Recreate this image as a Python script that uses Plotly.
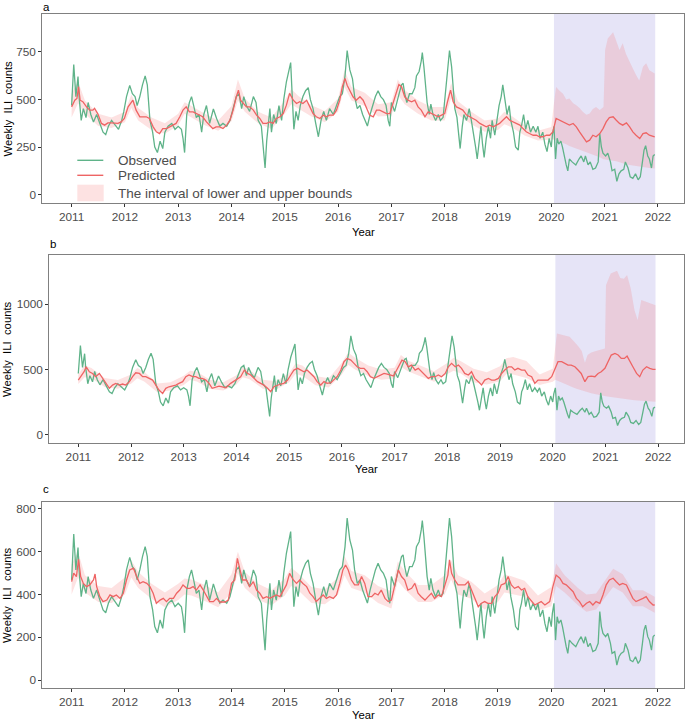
import plotly.graph_objects as go

# ---------------- data ----------------
years_ticks = [2011, 2012, 2013, 2014, 2015, 2016, 2017, 2018, 2019, 2020, 2021, 2022]
shade_start, shade_end = 2020.05, 2021.95

obs_year = [
    2011.00, 2011.04, 2011.08, 2011.12, 2011.14, 2011.18, 2011.22, 2011.27, 2011.31, 2011.36,
    2011.41, 2011.47, 2011.53, 2011.59, 2011.64, 2011.69, 2011.75, 2011.81, 2011.88, 2011.94,
    2011.98, 2012.03, 2012.09, 2012.14, 2012.19, 2012.23, 2012.28, 2012.33, 2012.38, 2012.42,
    2012.47, 2012.52, 2012.56, 2012.61, 2012.66, 2012.71, 2012.75, 2012.81, 2012.88, 2012.94,
    2013.00, 2013.06, 2013.09, 2013.12, 2013.16, 2013.21, 2013.25, 2013.29, 2013.34, 2013.39,
    2013.44, 2013.48, 2013.53, 2013.59, 2013.66, 2013.72, 2013.78, 2013.84, 2013.91, 2013.97,
    2014.03, 2014.09, 2014.14, 2014.19, 2014.23, 2014.28, 2014.34, 2014.41, 2014.46, 2014.50,
    2014.56, 2014.59, 2014.63, 2014.66, 2014.69, 2014.72, 2014.75, 2014.79, 2014.84, 2014.89,
    2014.94, 2014.98, 2015.03, 2015.08, 2015.11, 2015.14, 2015.17, 2015.21, 2015.25, 2015.29,
    2015.34, 2015.39, 2015.44, 2015.48, 2015.53, 2015.58, 2015.63, 2015.68, 2015.73, 2015.78,
    2015.84, 2015.91, 2015.97, 2016.03, 2016.08, 2016.13, 2016.17, 2016.22, 2016.27, 2016.31,
    2016.36, 2016.41, 2016.46, 2016.50, 2016.55, 2016.60, 2016.65, 2016.70, 2016.75, 2016.80,
    2016.85, 2016.90, 2016.94, 2016.97, 2017.00, 2017.06, 2017.13, 2017.19, 2017.22, 2017.25,
    2017.29, 2017.34, 2017.39, 2017.44, 2017.47, 2017.52, 2017.56, 2017.58, 2017.61, 2017.64,
    2017.67, 2017.71, 2017.74, 2017.78, 2017.83, 2017.88, 2017.92, 2017.97, 2018.03, 2018.07,
    2018.09, 2018.13, 2018.16, 2018.19, 2018.23, 2018.26, 2018.29, 2018.33, 2018.36, 2018.41,
    2018.46, 2018.50, 2018.54, 2018.58, 2018.61, 2018.64, 2018.68, 2018.71, 2018.74, 2018.78,
    2018.82, 2018.86, 2018.89, 2018.94, 2018.98, 2019.02, 2019.06, 2019.09, 2019.13, 2019.17,
    2019.21, 2019.24, 2019.29, 2019.33, 2019.38, 2019.41, 2019.44, 2019.48, 2019.52, 2019.56,
    2019.61, 2019.66, 2019.71, 2019.75, 2019.79, 2019.84, 2019.88, 2019.92, 2019.96, 2020.00,
    2020.02, 2020.05, 2020.08, 2020.11, 2020.14, 2020.18, 2020.21, 2020.24, 2020.28, 2020.31,
    2020.34, 2020.39, 2020.46, 2020.52, 2020.56, 2020.61, 2020.64, 2020.69, 2020.73, 2020.78,
    2020.83, 2020.88, 2020.91, 2020.94, 2020.97, 2021.02, 2021.06, 2021.11, 2021.14, 2021.19,
    2021.23, 2021.27, 2021.31, 2021.36, 2021.39, 2021.44, 2021.48, 2021.53, 2021.58, 2021.63,
    2021.67, 2021.71, 2021.74, 2021.77, 2021.81, 2021.84, 2021.88, 2021.91, 2021.94,
]
obs_value = [
    468, 683, 515, 620, 515, 390, 452, 405, 484, 421,
    382, 421, 374, 328, 315, 359, 390, 367, 343, 390,
    437, 515, 574, 530, 515, 468, 515, 577, 624, 577,
    390, 328, 250, 221, 281, 242, 328, 359, 374, 343,
    359, 343, 296, 221, 421, 484, 515, 468, 405, 421,
    328, 421, 468, 374, 450, 400, 360, 374, 359, 390,
    452, 515, 530, 452, 515, 468, 437, 515, 484, 390,
    359, 250, 140, 281, 359, 452, 328, 421, 374, 468,
    390, 499, 593, 655, 694, 515, 343, 437, 390, 468,
    515, 546, 562, 499, 452, 374, 304, 390, 437, 390,
    452, 421, 468, 515, 530, 624, 757, 655, 608, 515,
    452, 468, 421, 390, 360, 421, 468, 515, 546, 515,
    499, 468, 390, 359, 484, 437, 515, 577, 585, 530,
    484, 530, 530, 562, 624, 647, 702, 746, 671, 562,
    484, 421, 476, 421, 390, 421, 390, 406, 593, 733,
    757, 671, 546, 452, 406, 328, 242, 359, 421, 390,
    452, 390, 328, 250, 187, 265, 359, 265, 195, 296,
    359, 296, 390, 312, 406, 468, 515, 577, 499, 421,
    468, 390, 328, 250, 234, 328, 359, 421, 343, 390,
    328, 359, 328, 359, 296, 328, 265, 226, 296, 250,
    312, 359, 187, 296, 265, 281, 250, 203, 156, 125,
    187, 172, 156, 187, 203, 172, 203, 156, 172, 133,
    140, 172, 320, 250, 218, 203, 218, 172, 125, 133,
    70, 109, 125, 133, 172, 140, 94, 86, 109, 78,
    94, 172, 234, 257, 203, 187, 140, 203, 211,
]

# ---- panel a: predicted + bounds
pred_a_year = [
    2011.00, 2011.06, 2011.10, 2011.13, 2011.16, 2011.21, 2011.28, 2011.34, 2011.40, 2011.43,
    2011.49, 2011.56, 2011.62, 2011.68, 2011.74, 2011.81, 2011.87, 2011.93, 2011.99, 2012.06,
    2012.12, 2012.15, 2012.21, 2012.28, 2012.34, 2012.40, 2012.46, 2012.53, 2012.59, 2012.65,
    2012.71, 2012.78, 2012.84, 2012.90, 2012.96, 2013.03, 2013.09, 2013.15, 2013.21, 2013.28,
    2013.34, 2013.40, 2013.46, 2013.53, 2013.59, 2013.65, 2013.71, 2013.78, 2013.84, 2013.91,
    2013.97, 2014.03, 2014.09, 2014.13, 2014.17, 2014.22, 2014.28, 2014.34, 2014.41, 2014.47,
    2014.53, 2014.59, 2014.66, 2014.72, 2014.78, 2014.84, 2014.91, 2014.97, 2015.03, 2015.09,
    2015.16, 2015.22, 2015.28, 2015.34, 2015.41, 2015.47, 2015.53, 2015.59, 2015.66, 2015.72,
    2015.78, 2015.84, 2015.91, 2015.97, 2016.03, 2016.08, 2016.13, 2016.17, 2016.22, 2016.28,
    2016.34, 2016.41, 2016.47, 2016.53, 2016.59, 2016.66, 2016.72, 2016.78, 2016.84, 2016.91,
    2016.97, 2017.03, 2017.09, 2017.14, 2017.19, 2017.25, 2017.31, 2017.38, 2017.44, 2017.50,
    2017.56, 2017.63, 2017.69, 2017.75, 2017.81, 2017.88, 2017.94, 2018.00, 2018.06, 2018.11,
    2018.16, 2018.22, 2018.28, 2018.34, 2018.41, 2018.47, 2018.53, 2018.59, 2018.66, 2018.72,
    2018.78, 2018.84, 2018.91, 2018.97, 2019.03, 2019.09, 2019.16, 2019.22, 2019.28, 2019.34,
    2019.41, 2019.47, 2019.53, 2019.59, 2019.66, 2019.72, 2019.78, 2019.84, 2019.91, 2019.97,
    2020.03, 2020.09, 2020.16, 2020.22, 2020.28, 2020.34, 2020.41, 2020.47, 2020.53, 2020.59,
    2020.66, 2020.72, 2020.78, 2020.84, 2020.91, 2020.97, 2021.03, 2021.09, 2021.16, 2021.22,
    2021.28, 2021.34, 2021.41, 2021.47, 2021.53, 2021.59, 2021.66, 2021.72, 2021.78, 2021.84,
    2021.91, 2021.94,
]
pred_a_value = [
    461, 496, 505, 567, 496, 488, 461, 444, 444, 453,
    426, 374, 365, 377, 377, 374, 374, 382, 400, 461,
    488, 496, 444, 409, 409, 409, 400, 356, 330, 321,
    347, 347, 356, 365, 374, 409, 444, 461, 435, 435,
    426, 418, 409, 382, 365, 347, 356, 356, 347, 365,
    391, 444, 514, 549, 496, 479, 461, 461, 444, 418,
    400, 374, 374, 382, 374, 400, 409, 426, 470, 532,
    496, 479, 488, 479, 496, 461, 426, 409, 400, 418,
    409, 418, 418, 444, 496, 567, 611, 575, 549, 514,
    496, 514, 496, 461, 418, 409, 444, 444, 435, 426,
    426, 479, 532, 578, 567, 514, 496, 488, 496, 461,
    444, 409, 435, 426, 418, 409, 418, 426, 496, 549,
    488, 461, 453, 444, 418, 409, 400, 391, 374, 365,
    356, 365, 356, 365, 374, 391, 409, 391, 382, 374,
    365, 347, 330, 321, 312, 312, 304, 304, 312, 312,
    330, 400, 391, 382, 374, 365, 374, 356, 330, 304,
    277, 286, 312, 304, 321, 347, 382, 405, 409, 391,
    374, 365, 377, 356, 330, 312, 295, 321, 325, 312,
    307, 304,
]
band_a_year = [
    2011.00, 2011.12, 2011.25, 2011.50, 2011.75, 2012.00, 2012.12, 2012.25, 2012.50, 2012.75,
    2013.00, 2013.12, 2013.25, 2013.50, 2013.75, 2014.00, 2014.12, 2014.25, 2014.50, 2014.75,
    2015.00, 2015.12, 2015.25, 2015.50, 2015.75, 2016.00, 2016.12, 2016.25, 2016.50, 2016.75,
    2017.00, 2017.12, 2017.25, 2017.50, 2017.75, 2018.00, 2018.12, 2018.25, 2018.50, 2018.75,
    2019.00, 2019.12, 2019.25, 2019.50, 2019.75, 2020.00, 2020.05, 2020.09, 2020.16, 2020.22,
    2020.28, 2020.34, 2020.41, 2020.47, 2020.53, 2020.59, 2020.66, 2020.72, 2020.78, 2020.84,
    2020.91, 2020.98, 2021.01, 2021.06, 2021.16, 2021.22, 2021.28, 2021.34, 2021.40, 2021.47,
    2021.53, 2021.59, 2021.65, 2021.72, 2021.78, 2021.84, 2021.94,
]
band_a_lower = [
    405, 480, 425, 360, 350, 380, 455, 390, 340, 320,
    365, 425, 405, 365, 335, 385, 495, 435, 375, 345,
    425, 475, 450, 410, 380, 435, 565, 495, 465, 410,
    415, 525, 475, 425, 390, 390, 505, 420, 370, 330,
    340, 370, 355, 310, 285, 290, 290, 288, 280, 272,
    265, 255, 248, 242, 235, 228, 222, 216, 210, 203,
    196, 186, 184, 182, 178, 175, 170, 163, 160, 156,
    152, 150, 148, 146, 142, 140, 137,
]
band_a_upper = [
    530, 595, 495, 425, 405, 435, 525, 455, 405, 375,
    425, 485, 465, 425, 390, 465, 605, 505, 435, 405,
    495, 555, 520, 470, 440, 505, 655, 565, 535, 475,
    485, 605, 550, 495, 460, 460, 585, 490, 435, 390,
    400, 435, 415, 365, 335, 355, 480, 565, 545, 530,
    500, 505, 480, 470, 455, 435, 420, 426, 450, 460,
    445, 460, 760, 820, 853, 800, 760, 795, 740, 698,
    660, 628, 600, 672, 690, 654, 637,
]

# ---- panel b: predicted + bounds
pred_b_year = [
    2011.00, 2011.05, 2011.11, 2011.15, 2011.21, 2011.27, 2011.33, 2011.40, 2011.46, 2011.52,
    2011.59, 2011.65, 2011.71, 2011.78, 2011.84, 2011.90, 2011.97, 2012.03, 2012.09, 2012.16,
    2012.22, 2012.28, 2012.34, 2012.41, 2012.47, 2012.53, 2012.60, 2012.66, 2012.72, 2012.79,
    2012.85, 2012.91, 2012.98, 2013.04, 2013.10, 2013.17, 2013.23, 2013.29, 2013.35, 2013.42,
    2013.48, 2013.54, 2013.61, 2013.67, 2013.73, 2013.80, 2013.89, 2013.99, 2014.08, 2014.15,
    2014.21, 2014.27, 2014.33, 2014.40, 2014.46, 2014.52, 2014.59, 2014.65, 2014.71, 2014.78,
    2014.84, 2014.90, 2014.97, 2015.03, 2015.09, 2015.16, 2015.22, 2015.28, 2015.34, 2015.41,
    2015.47, 2015.53, 2015.60, 2015.66, 2015.72, 2015.79, 2015.85, 2015.91, 2015.98, 2016.04,
    2016.10, 2016.17, 2016.23, 2016.29, 2016.35, 2016.42, 2016.48, 2016.54, 2016.61, 2016.67,
    2016.73, 2016.80, 2016.86, 2016.92, 2016.98, 2017.04, 2017.14, 2017.20, 2017.26, 2017.32,
    2017.39, 2017.45, 2017.51, 2017.58, 2017.64, 2017.70, 2017.77, 2017.83, 2017.89, 2017.96,
    2018.02, 2018.08, 2018.15, 2018.21, 2018.27, 2018.33, 2018.40, 2018.46, 2018.52, 2018.59,
    2018.65, 2018.71, 2018.78, 2018.84, 2018.90, 2018.97, 2019.03, 2019.09, 2019.16, 2019.22,
    2019.28, 2019.34, 2019.41, 2019.47, 2019.53, 2019.60, 2019.66, 2019.72, 2019.79, 2019.85,
    2019.91, 2019.98, 2020.04, 2020.10, 2020.17, 2020.23, 2020.29, 2020.35, 2020.42, 2020.48,
    2020.54, 2020.61, 2020.67, 2020.73, 2020.80, 2020.86, 2020.92, 2020.99, 2021.05, 2021.11,
    2021.18, 2021.24, 2021.30, 2021.36, 2021.41, 2021.46, 2021.52, 2021.59, 2021.65, 2021.71,
    2021.78, 2021.84, 2021.90, 2021.95,
]
pred_b_value = [
    418, 444, 482, 520, 482, 469, 444, 469, 431, 393,
    355, 380, 393, 380, 388, 380, 406, 444, 474, 469,
    444, 444, 431, 418, 380, 342, 316, 355, 367, 372,
    380, 393, 406, 444, 457, 444, 444, 431, 431, 418,
    393, 355, 367, 372, 367, 360, 393, 418, 444, 495,
    469, 457, 431, 406, 393, 380, 355, 329, 367, 380,
    388, 393, 418, 457, 495, 508, 495, 482, 495, 469,
    444, 406, 380, 406, 393, 398, 418, 444, 495, 559,
    584, 571, 546, 520, 508, 508, 482, 444, 431, 444,
    457, 469, 464, 457, 450, 495, 571, 559, 520, 533,
    495, 508, 482, 457, 431, 444, 444, 457, 444, 469,
    520, 546, 520, 533, 508, 469, 457, 482, 431, 406,
    380, 418, 431, 418, 418, 431, 469, 495, 520, 520,
    495, 508, 495, 495, 457, 444, 393, 418, 418, 418,
    418, 444, 495, 559, 559, 546, 533, 533, 520, 495,
    469, 406, 444, 449, 444, 469, 482, 508, 559, 610,
    622, 610, 584, 584, 602, 559, 520, 469, 444, 495,
    520, 508, 500, 500,
]
band_b_year = [
    2011.00, 2011.12, 2011.25, 2011.50, 2011.75, 2012.00, 2012.12, 2012.25, 2012.50, 2012.75,
    2013.00, 2013.12, 2013.25, 2013.50, 2013.75, 2014.00, 2014.12, 2014.25, 2014.50, 2014.75,
    2015.00, 2015.12, 2015.25, 2015.50, 2015.75, 2016.00, 2016.12, 2016.25, 2016.50, 2016.75,
    2017.00, 2017.12, 2017.25, 2017.50, 2017.75, 2018.00, 2018.12, 2018.25, 2018.50, 2018.75,
    2019.00, 2019.12, 2019.25, 2019.50, 2019.75, 2020.00, 2020.05, 2020.08, 2020.17, 2020.25,
    2020.32, 2020.40, 2020.48, 2020.55, 2020.61, 2020.66, 2020.73, 2020.82, 2020.92, 2020.99,
    2021.01, 2021.10, 2021.22, 2021.28, 2021.35, 2021.41, 2021.48, 2021.55, 2021.61, 2021.68,
    2021.77, 2021.87, 2021.95,
]
band_b_lower = [
    388, 440, 432, 365, 352, 390, 432, 408, 325, 338,
    380, 418, 408, 350, 338, 385, 440, 425, 352, 345,
    402, 465, 452, 378, 362, 460, 535, 500, 450, 420,
    430, 520, 485, 445, 405, 465, 490, 470, 400, 385,
    410, 465, 460, 435, 380, 405, 420, 415, 400, 385,
    372, 360, 348, 338, 330, 325, 318, 310, 302, 296,
    295, 288, 282, 278, 274, 270, 267, 263, 260, 258,
    256, 254, 253,
]
band_b_upper = [
    462, 530, 510, 435, 418, 460, 510, 482, 392, 402,
    452, 490, 482, 420, 402, 455, 520, 495, 420, 410,
    470, 545, 530, 450, 432, 550, 630, 590, 530, 500,
    512, 610, 568, 528, 485, 548, 590, 565, 505, 478,
    525, 585, 595, 565, 460, 505, 690, 775, 765, 755,
    750, 715, 680, 640, 550, 610, 630, 640, 650, 660,
    1145, 1235, 1255, 1200, 1195, 1222, 1120, 954, 878, 1031,
    1018, 1005, 992,
]

# ---- panel c: predicted + bounds
pred_c_year = [
    2011.00, 2011.04, 2011.09, 2011.13, 2011.17, 2011.22, 2011.28, 2011.34, 2011.41, 2011.44,
    2011.47, 2011.53, 2011.59, 2011.66, 2011.72, 2011.78, 2011.84, 2011.91, 2011.97, 2012.03,
    2012.09, 2012.16, 2012.22, 2012.28, 2012.34, 2012.41, 2012.47, 2012.53, 2012.59, 2012.66,
    2012.72, 2012.78, 2012.84, 2012.91, 2012.97, 2013.03, 2013.09, 2013.16, 2013.22, 2013.28,
    2013.34, 2013.41, 2013.47, 2013.53, 2013.59, 2013.66, 2013.72, 2013.78, 2013.88, 2013.94,
    2014.00, 2014.06, 2014.11, 2014.16, 2014.21, 2014.28, 2014.34, 2014.41, 2014.47, 2014.53,
    2014.59, 2014.66, 2014.72, 2014.78, 2014.84, 2014.91, 2014.97, 2015.03, 2015.09, 2015.16,
    2015.22, 2015.28, 2015.34, 2015.41, 2015.47, 2015.53, 2015.59, 2015.66, 2015.72, 2015.78,
    2015.84, 2015.91, 2015.97, 2016.03, 2016.09, 2016.14, 2016.19, 2016.25, 2016.31, 2016.38,
    2016.44, 2016.50, 2016.56, 2016.63, 2016.69, 2016.75, 2016.81, 2016.88, 2016.94, 2017.00,
    2017.06, 2017.13, 2017.19, 2017.25, 2017.31, 2017.38, 2017.44, 2017.50, 2017.56, 2017.63,
    2017.69, 2017.75, 2017.81, 2017.88, 2017.94, 2018.00, 2018.06, 2018.09, 2018.13, 2018.19,
    2018.25, 2018.31, 2018.38, 2018.44, 2018.50, 2018.56, 2018.63, 2018.69, 2018.75, 2018.81,
    2018.88, 2018.94, 2019.00, 2019.06, 2019.13, 2019.19, 2019.25, 2019.31, 2019.38, 2019.44,
    2019.50, 2019.56, 2019.63, 2019.69, 2019.75, 2019.81, 2019.88, 2019.97, 2020.03, 2020.09,
    2020.16, 2020.22, 2020.28, 2020.34, 2020.41, 2020.47, 2020.53, 2020.59, 2020.66, 2020.72,
    2020.78, 2020.84, 2020.91, 2020.97, 2021.03, 2021.09, 2021.16, 2021.22, 2021.28, 2021.34,
    2021.41, 2021.47, 2021.53, 2021.59, 2021.66, 2021.72, 2021.78, 2021.84, 2021.91, 2021.94,
]
pred_c_value = [
    460, 500, 484, 565, 484, 452, 437, 445, 468, 496,
    437, 390, 367, 374, 398, 390, 398, 382, 406, 468,
    515, 523, 484, 452, 460, 452, 437, 406, 359, 374,
    382, 367, 382, 382, 406, 421, 445, 429, 429, 437,
    421, 445, 421, 390, 367, 367, 382, 365, 365, 374,
    452, 468, 569, 515, 468, 468, 437, 460, 421, 406,
    382, 390, 382, 390, 398, 390, 421, 445, 499, 468,
    452, 468, 452, 437, 406, 390, 367, 382, 398, 382,
    390, 382, 398, 452, 515, 538, 515, 468, 445, 445,
    484, 452, 390, 390, 406, 398, 421, 382, 367, 374,
    437, 515, 484, 468, 421, 429, 452, 406, 390, 374,
    390, 406, 382, 398, 390, 445, 491, 562, 499, 468,
    445, 445, 445, 460, 421, 382, 343, 359, 367, 359,
    359, 390, 406, 445, 452, 484, 445, 429, 437, 421,
    429, 390, 367, 351, 359, 367, 351, 367, 437, 491,
    476, 452, 445, 429, 413, 382, 367, 343, 359, 367,
    351, 367, 359, 398, 445, 468, 476, 460, 445, 452,
    445, 413, 382, 367, 374, 382, 390, 367, 351, 351,
]
band_c_year = [
    2011.00, 2011.12, 2011.25, 2011.50, 2011.75, 2012.00, 2012.12, 2012.25, 2012.50, 2012.75,
    2013.00, 2013.12, 2013.25, 2013.50, 2013.75, 2014.00, 2014.12, 2014.25, 2014.50, 2014.75,
    2015.00, 2015.12, 2015.25, 2015.50, 2015.75, 2016.00, 2016.12, 2016.25, 2016.50, 2016.75,
    2017.00, 2017.12, 2017.25, 2017.50, 2017.75, 2018.00, 2018.12, 2018.25, 2018.50, 2018.75,
    2019.00, 2019.12, 2019.25, 2019.50, 2019.75, 2020.00, 2020.09, 2020.25, 2020.50, 2020.66,
    2020.84, 2021.00, 2021.16, 2021.34, 2021.53, 2021.72, 2021.94,
]
band_c_lower = [
    400, 480, 410, 365, 360, 400, 480, 430, 380, 340,
    375, 400, 395, 370, 340, 410, 500, 430, 375, 350,
    395, 440, 420, 360, 355, 400, 490, 430, 410, 360,
    335, 465, 425, 365, 365, 400, 470, 400, 380, 330,
    365, 410, 405, 390, 325, 345, 440, 410, 350, 320,
    330, 380, 435, 410, 345, 345, 315,
]
band_c_upper = [
    540, 600, 490, 440, 430, 480, 560, 505, 450, 410,
    450, 475, 470, 445, 410, 495, 600, 505, 450, 420,
    475, 525, 500, 435, 425, 480, 580, 510, 490, 440,
    415, 555, 510, 445, 445, 490, 560, 490, 460, 405,
    445, 495, 485, 465, 395, 435, 545, 490, 430, 400,
    405, 465, 520, 495, 420, 420, 390,
]

# ---------------- styling ----------------
W, H = 685, 722
FONT = "Liberation Sans, Arial, sans-serif"
GREEN = "#5FB389"
RED = "#EE6464"
BAND = "rgba(245,110,110,0.20)"
SHADE = "#E6E4F7"
BORDER = "#808080"
TICKC = "#333333"
TICKTXT = "#4D4D4D"


def px(x):
    return x / W


def py(y):
    return 1 - y / H


panels = [
    dict(tag="a", pred_t=pred_a_year, pred_v=pred_a_value, band_t=band_a_year,
         lo=band_a_lower, up=band_a_upper,
         xdom=[px(42.3), px(684)], ydom=[py(203), py(14)], yrange=[-44, 949],
         ytick=[0, 250, 500, 750], tag_x=42.3, tag_y=0.0, tag_anchor="top",
         ttl_y=108.5, year_x=363.2, year_y=231.5),
    dict(tag="b", pred_t=pred_b_year, pred_v=pred_b_value, band_t=band_b_year,
         lo=band_b_lower, up=band_b_upper,
         xdom=[px(49.3), px(684)], ydom=[py(443.3), py(255)], yrange=[-66, 1376],
         ytick=[0, 500, 1000], tag_x=49.3, tag_y=244.2, tag_anchor="middle",
         ttl_y=349.0, year_x=366.7, year_y=469.5),
    dict(tag="c", pred_t=pred_c_year, pred_v=pred_c_value, band_t=band_c_year,
         lo=band_c_lower, up=band_c_upper,
         xdom=[px(42.3), px(684)], ydom=[py(688), py(501.7)], yrange=[-37, 834],
         ytick=[0, 200, 400, 600, 800], tag_x=42.3, tag_y=489.2, tag_anchor="middle",
         ttl_y=595.0, year_x=363.2, year_y=715.0),
]

fig = go.Figure()
layout = dict(
    width=W, height=H, autosize=False,
    margin=dict(l=0, r=0, t=0, b=0, pad=0),
    paper_bgcolor="white", plot_bgcolor="white",
    showlegend=False,
    font=dict(family=FONT, color="#1A1A1A"),
)
annotations = []
shapes = []

for i, p in enumerate(panels):
    n = "" if i == 0 else str(i + 1)
    xa, ya = "x" + n, "y" + n
    band_x = p["band_t"] + p["band_t"][::-1]
    band_y = p["up"] + p["lo"][::-1]
    fig.add_trace(go.Scatter(
        x=band_x, y=band_y, xaxis=xa, yaxis=ya, mode="lines", fill="toself",
        fillcolor=BAND, line=dict(width=0, color=BAND), hoverinfo="skip",
        name="The interval of lower and upper bounds"))
    fig.add_trace(go.Scatter(
        x=obs_year, y=obs_value, xaxis=xa, yaxis=ya, mode="lines",
        line=dict(color=GREEN, width=1.3), name="Observed"))
    fig.add_trace(go.Scatter(
        x=p["pred_t"], y=p["pred_v"], xaxis=xa, yaxis=ya, mode="lines",
        line=dict(color=RED, width=1.3), name="Predicted"))

    common = dict(showline=True, mirror=True, linecolor=BORDER, linewidth=1,
                  ticks="outside", ticklen=3, tickwidth=1, tickcolor=TICKC,
                  showgrid=False, zeroline=False,
                  tickfont=dict(family=FONT, size=11.8, color=TICKTXT))
    layout["xaxis" + n] = dict(common, domain=p["xdom"], anchor=ya,
                               range=[2010.45, 2022.49], tickmode="array",
                               tickvals=years_ticks, ticktext=[str(v) for v in years_ticks])
    layout["yaxis" + n] = dict(common, domain=p["ydom"], anchor=xa,
                               range=p["yrange"], tickmode="array", tickvals=p["ytick"],
                               ticktext=[str(v) for v in p["ytick"]])

    shapes.append(dict(type="rect", xref=xa, yref=ya + " domain",
                       x0=shade_start, x1=shade_end, y0=0, y1=1,
                       fillcolor=SHADE, line=dict(width=0), layer="below"))

    annotations.append(dict(text=p["tag"], x=px(p["tag_x"]), y=py(p["tag_y"]),
                            xref="paper", yref="paper", xanchor="left", yanchor=p["tag_anchor"],
                            borderpad=0, showarrow=False,
                            font=dict(family=FONT, size=11.5, color="#000000")))
    annotations.append(dict(text="Weekly\u00a0 ILI\u00a0 counts", x=px(7), y=py(p["ttl_y"]),
                            xref="paper", yref="paper", xanchor="center", yanchor="middle",
                            textangle=-90, showarrow=False,
                            font=dict(family=FONT, size=11.3, color="#000000")))
    annotations.append(dict(text="Year", x=px(p["year_x"]), y=py(p["year_y"]),
                            xref="paper", yref="paper", xanchor="center", yanchor="middle",
                            showarrow=False, font=dict(family=FONT, size=11.3, color="#000000")))

# legend of panel a (drawn as keys + text)
leg_font = dict(family=FONT, size=13.5, color=TICKTXT)
shapes.append(dict(type="line", xref="paper", yref="paper", x0=px(77.3), x1=px(103.3),
                   y0=py(160.3), y1=py(160.3), line=dict(color=GREEN, width=1.4)))
shapes.append(dict(type="line", xref="paper", yref="paper", x0=px(77.3), x1=px(103.3),
                   y0=py(175.3), y1=py(175.3), line=dict(color=RED, width=1.4)))
shapes.append(dict(type="rect", xref="paper", yref="paper", x0=px(77.3), x1=px(103.7),
                   y0=py(201.3), y1=py(184.7), fillcolor=BAND, line=dict(width=0)))
for txt, yy in [("Observed", 160.3), ("Predicted", 175.3),
                ("The interval of lower and upper bounds", 193.0)]:
    annotations.append(dict(text=txt, x=px(115.7), y=py(yy), xref="paper", yref="paper",
                            xanchor="left", yanchor="middle", showarrow=False, font=leg_font))

layout["annotations"] = annotations
layout["shapes"] = shapes
fig.update_layout(**layout)
fig.write_html(
    "out.html",
    config={"displayModeBar": False, "staticPlot": True},
    post_script="document.documentElement.style.margin='0';document.body.style.margin='0';"
                "document.body.style.overflow='hidden';",
)
